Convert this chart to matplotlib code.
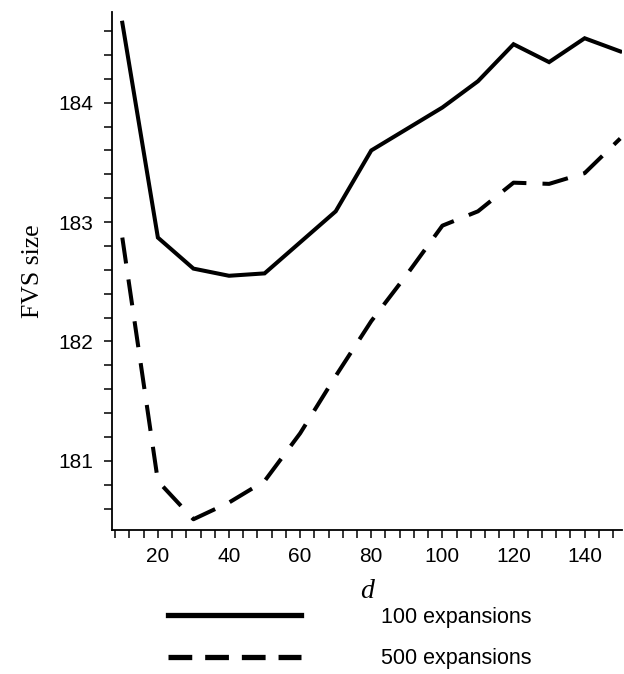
import numpy as np
import matplotlib
matplotlib.use("Agg")
import matplotlib.pyplot as plt
from matplotlib.lines import Line2D
from matplotlib.ticker import MultipleLocator

plt.rcParams["font.family"] = ["Liberation Sans", "DejaVu Sans"]

# window size d and FVS size for the two runs
d_values = [10, 20, 30, 40, 50, 60, 70, 80, 90, 100, 110, 120, 130, 140, 150]
fvs_100 = [184.67, 182.87, 182.61, 182.55, 182.57, 182.83, 183.09, 183.60,
           183.78, 183.96, 184.18, 184.49, 184.34, 184.54, 184.43]
fvs_500 = [182.87, 180.83, 180.51, 180.65, 180.83, 181.23, 181.71, 182.17,
           182.56, 182.97, 183.09, 183.33, 183.32, 183.41, 183.70]
labels = ["100 expansions", "500 expansions"]

W, H = 624, 674
fig = plt.figure(figsize=(W / 100, H / 100), dpi=100)
ax = fig.add_axes([112 / W, 1 - 530 / H, 510 / W, 518 / H])

ax.plot(d_values, fvs_100, color="black", lw=2.9, solid_joinstyle="miter")
ax.plot(d_values, fvs_500, color="black", lw=2.9, dashes=(6.5, 4.0))

ax.set_xlim(7.1, 150.5)
ax.set_ylim(180.42, 184.76)
for s in ["top", "right"]:
    ax.spines[s].set_visible(False)
for s in ["left", "bottom"]:
    ax.spines[s].set_linewidth(1.3)

ax.xaxis.set_minor_locator(MultipleLocator(4))
ax.yaxis.set_major_locator(MultipleLocator(1))
ax.yaxis.set_minor_locator(MultipleLocator(0.2))
ax.set_xticks([20, 40, 60, 80, 100, 120, 140])
ax.tick_params(which="both", direction="out", length=5.5, width=1.1,
               labelsize=15)
ax.tick_params(axis="x", which="major", pad=7)
ax.tick_params(axis="y", which="major", pad=8)

ax.set_xlabel("d", fontsize=20, family="Liberation Serif", style="italic",
              labelpad=9)
ax.set_ylabel("FVS size", fontsize=18.5, family="Liberation Serif",
              labelpad=10)

handles = [Line2D([], [], color="black", lw=3.8),
           Line2D([], [], color="black", lw=3.8, dashes=(4.5, 2.45))]
fig.legend(handles, labels, loc="upper left",
           bbox_to_anchor=(168 / W, 1 - 607 / H), frameon=False,
           fontsize=15.5, handlelength=6.2, handletextpad=3.7,
           labelspacing=0.95, borderpad=0, borderaxespad=0)

fig.savefig("out.png", dpi=100)
